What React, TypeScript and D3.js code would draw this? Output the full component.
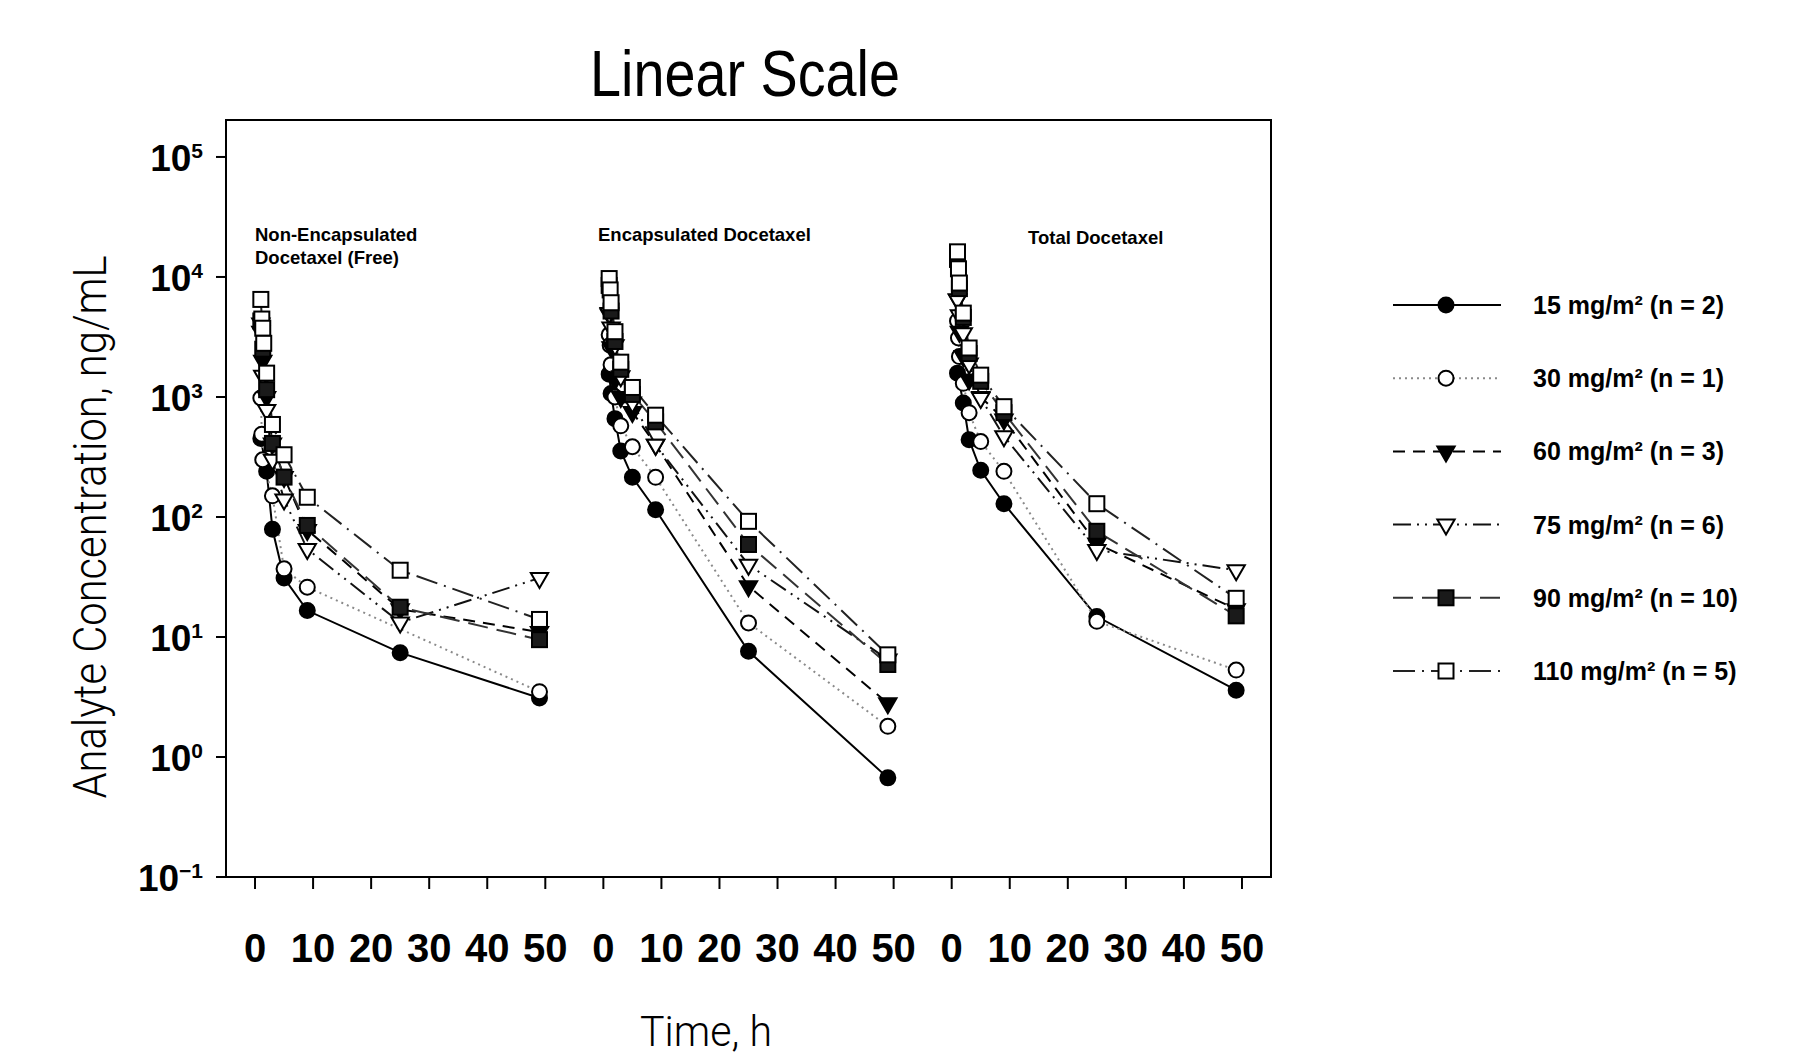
import React from 'react';
import * as d3 from 'd3';

// sampling times (h) shared by every profile
const times = [1, 1.17, 1.33, 1.5, 2, 3, 5, 9, 25, 49];
const panelTitles = [['Non-Encapsulated', 'Docetaxel (Free)'], ['Encapsulated Docetaxel'], ['Total Docetaxel']];
const xTickValues = [0, 10, 20, 30, 40, 50];
const yExponents = [-1, 0, 1, 2, 3, 4, 5];
const doseLabels = [
  '15 mg/m² (n = 2)',
  '30 mg/m² (n = 1)',
  '60 mg/m² (n = 3)',
  '75 mg/m² (n = 6)',
  '90 mg/m² (n = 10)',
  '110 mg/m² (n = 5)',
];

// ng/mL per dose, rows = [free, encapsulated, total]; null = point not shown
const dose15 = [
  [450, null, null, null, 240, 79, 31, 16.6, 7.4, 3.1],
  [1550, null, 1070, null, 660, 355, 214, 115, 7.6, 0.67],
  [1580, null, null, null, 890, 440, 245, 129, 14.8, 3.6],
];
const dose30 = [
  [980, 490, 300, null, null, 150, 37, 26, null, 3.5],
  [3300, 2700, 1860, null, 1000, 575, 385, 214, 13.1, 1.8],
  [4300, 3100, 2170, null, 1300, 740, 425, 240, 13.5, 5.3],
];
const dose60 = [
  [4100, null, 2000, null, 1000, 410, 215, 78, 17, 11],
  [4900, null, 2600, null, 1400, 1000, 750, 400, 26.5, 2.8],
  [6500, null, 3500, null, 2200, 1400, 1000, 650, 60, 17],
];
const dose75 = [
  [3500, null, 1500, null, 780, 300, 140, 54, 13.2, 31],
  [5000, null, 3800, null, 2700, 1490, 900, 400, 40, 6.5],
  [6500, null, 4800, null, 3400, 1900, 980, 470, 53, 36],
];
const dose90 = [
  [4300, null, 2500, null, 1150, 410, 215, 85, 17.7, 9.5],
  [8500, null, 5200, null, 2900, 1700, 1050, 620, 59, 5.9],
  [14000, null, 8000, null, 4600, 2300, 1350, 740, 76, 15],
];
const dose110 = [
  [6500, 4460, 3740, 2800, 1580, 590, 330, 146, 36, 14],
  [9700, 7800, 6100, null, 3500, 1950, 1200, 705, 92, 7.1],
  [16200, 11700, 8900, null, 5000, 2560, 1520, 830, 129, 21],
];
const doseData = [dose15, dose30, dose60, dose75, dose90, dose110];

// each panel is shifted along a continuous time axis
const panelOffset = [0, 60, 120];

const styles = [
  { shape: 'circle', fill: '#000', dash: null, line: '#000' },
  { shape: 'circle', fill: '#fff', dash: '2 4', line: '#8a8a8a' },
  { shape: 'triangle', fill: '#000', dash: '12 8', line: '#000' },
  { shape: 'triangle', fill: '#fff', dash: '18 6 2 6 2 6', line: '#111' },
  { shape: 'square', fill: '#1a1a1a', dash: '20 9', line: '#333' },
  { shape: 'square', fill: '#fff', dash: '22 7 2 7', line: '#222' },
];

const FONT = "'Liberation Sans', Arial, sans-serif";

const Marker = ({ shape, fill, x, y }) => {
  if (shape === 'circle') {
    return <circle cx={x} cy={y} r={7.5} fill={fill} stroke="#000" strokeWidth={2} />;
  }
  if (shape === 'square') {
    return <rect x={x - 7.5} y={y - 7.5} width={15} height={15} fill={fill} stroke="#000" strokeWidth={2} />;
  }
  const p = d3.symbol(d3.symbolTriangle, 130)();
  return <path d={p} transform={`translate(${x},${y}) rotate(180)`} fill={fill} stroke="#000" strokeWidth={2} />;
};

export default function App() {
  const left = 226, right = 1271, top = 120, bottom = 877;
  const x = d3.scaleLinear().domain([-5, 175]).range([left, right]);
  const y = d3.scaleLog().domain([0.1, Math.pow(10, 5.308)]).range([bottom, top]);

  const line = d3.line().x(d => x(d[0])).y(d => y(d[1]));

  const series = doseData.map(rows =>
    rows.map((vals, pi) =>
      vals
        .map((v, i) => (v == null ? null : [times[i] + panelOffset[pi], v]))
        .filter(Boolean)
    )
  );

  const xTicks = panelOffset.flatMap(o => xTickValues.map(v => ({ v, pos: v + o })));

  const legendX0 = 1393, legendX1 = 1501, legendMid = 1446;
  const legendY = d3.scaleLinear().domain([0, 5]).range([305, 671]);

  return (
    <svg width={1810} height={1057} style={{ position: 'absolute', left: 0, top: 0, background: '#fff' }} fontFamily={FONT}>
      <rect width={1810} height={1057} fill="#fff" />
      <text x={745} y={96} fontSize={64} textAnchor="middle" textLength={310} lengthAdjust="spacingAndGlyphs">Linear Scale</text>

      {/* frame */}
      <rect x={left} y={top} width={right - left} height={bottom - top} fill="none" stroke="#000" strokeWidth={2} />

      {/* y axis */}
      {yExponents.map(e => {
        const yy = y(Math.pow(10, e));
        return (
          <g key={e}>
            <line x1={left - 10} x2={left} y1={yy} y2={yy} stroke="#000" strokeWidth={2} />
            <text x={203} y={yy + 14} textAnchor="end" fontSize={37} fontWeight="bold">
              10<tspan dy={-13} fontSize={21}>{e < 0 ? `\u2212${-e}` : e}</tspan>
            </text>
          </g>
        );
      })}
      <text transform="translate(106,527) rotate(-90)" textAnchor="middle" fontSize={46} fontWeight={300} fontFamily="Roboto, sans-serif" textLength={543} lengthAdjust="spacingAndGlyphs">
        Analyte Concentration, ng/mL
      </text>

      {/* x axis */}
      {xTicks.map((t, i) => (
        <g key={i}>
          <line x1={x(t.pos)} x2={x(t.pos)} y1={bottom} y2={bottom + 12} stroke="#000" strokeWidth={2} />
          <text x={x(t.pos)} y={962} textAnchor="middle" fontSize={40} fontWeight="bold">{t.v}</text>
        </g>
      ))}
      <text x={706} y={1046} textAnchor="middle" fontSize={42} fontWeight={300} fontFamily="Roboto, sans-serif" textLength={132} lengthAdjust="spacingAndGlyphs">Time, h</text>

      {/* panel titles */}
      <text x={255} y={241} fontSize={18.5} fontWeight="bold">{panelTitles[0][0]}</text>
      <text x={255} y={264} fontSize={18.5} fontWeight="bold">{panelTitles[0][1]}</text>
      <text x={598} y={241} fontSize={18.5} fontWeight="bold">{panelTitles[1][0]}</text>
      <text x={1028} y={244} fontSize={18.5} fontWeight="bold">{panelTitles[2][0]}</text>

      {/* lines */}
      {series.map((rows, si) =>
        rows.map((pts, pi) => (
          <path key={`l${si}-${pi}`} d={line(pts)} fill="none" stroke={styles[si].line} strokeWidth={2}
            strokeDasharray={styles[si].dash || undefined} />
        ))
      )}
      {/* markers */}
      {series.map((rows, si) =>
        rows.map((pts, pi) =>
          pts.map((p, k) => (
            <Marker key={`m${si}-${pi}-${k}`} shape={styles[si].shape} fill={styles[si].fill} x={x(p[0])} y={y(p[1])} />
          ))
        )
      )}

      {/* legend */}
      {doseLabels.map((lab, i) => {
        const ly = legendY(i);
        return (
          <g key={lab}>
            <line x1={legendX0} x2={legendX1} y1={ly} y2={ly} stroke={styles[i].line} strokeWidth={2} strokeDasharray={styles[i].dash || undefined} />
            <Marker shape={styles[i].shape} fill={styles[i].fill} x={legendMid} y={ly} />
            <text x={1533} y={ly + 9} fontSize={25} fontWeight="bold">{lab}</text>
          </g>
        );
      })}
    </svg>
  );
}
